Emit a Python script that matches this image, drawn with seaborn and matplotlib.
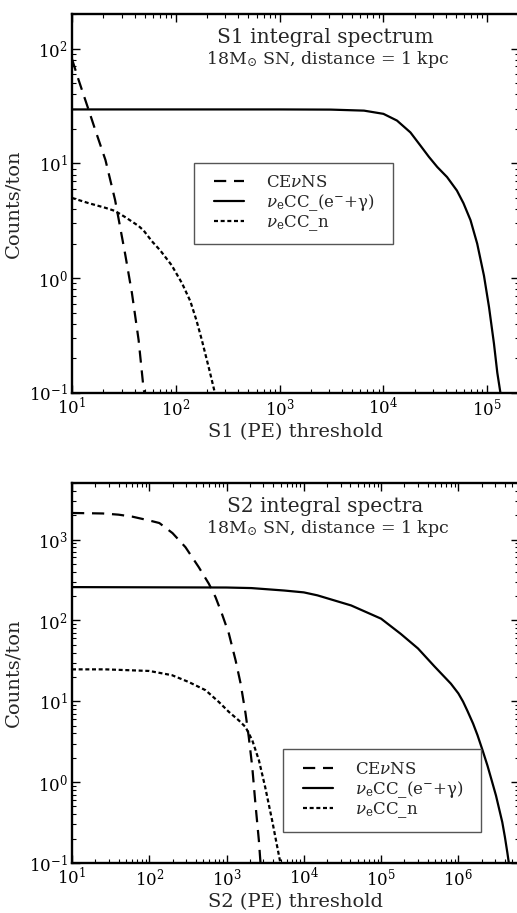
import numpy as np
import pandas as pd
import matplotlib
matplotlib.use("Agg")
import matplotlib.pyplot as plt
from matplotlib.patches import Rectangle
import seaborn as sns

# ---------------- data ----------------
# Top panel: S1 integral spectrum
s1_cevns_x = [10, 11.6, 14.5, 16.8, 21, 26, 32.6, 37.8, 43.8, 49, 50]
s1_cevns_y = [81, 53, 29, 19.4, 10.7, 4.8, 1.6, 0.74, 0.29, 0.107, 0.1]

s1_ccg_x = [10, 1000, 3100, 6500, 1e4, 1.35e4, 1.82e4, 2.27e4, 2.74e4, 3.3e4,
            4.1e4, 5.1e4, 5.9e4, 6.9e4, 8e4, 9.3e4, 1.04e5, 1.16e5, 1.25e5, 1.34e5]
s1_ccg_y = [29.5, 29.5, 29.4, 28.8, 27, 23.6, 18.6, 14.3, 11.4, 9.3,
            7.6, 5.8, 4.5, 3.2, 2.0, 1.05, 0.56, 0.27, 0.15, 0.1]

s1_ccn_x = [10, 14.5, 21, 26, 32.6, 43.8, 49, 58.8, 71, 91, 115, 138, 158, 178, 210, 238]
s1_ccn_y = [5.0, 4.5, 4.1, 3.85, 3.4, 2.85, 2.6, 2.1, 1.74, 1.3, 0.9, 0.63, 0.43, 0.29, 0.16, 0.1]

# Bottom panel: S2 integral spectra
s2_cevns_x = [10, 25, 40, 60, 100, 135, 200, 294, 437, 590, 720, 870, 1070,
              1310, 1520, 1760, 1940, 2150, 2360, 2620, 2750]
s2_cevns_y = [2130, 2100, 2030, 1920, 1720, 1600, 1200, 804, 455, 284, 194, 121, 69,
              32, 16.6, 7.1, 3.6, 1.55, 0.55, 0.19, 0.1]

s2_ccg_x = [10, 1000, 2090, 5600, 1e4, 1.5e4, 4.1e4, 1e5, 1.8e5, 3e5, 4.9e5, 8e5, 1e6,
            1.15e6, 1.31e6, 1.55e6, 1.77e6, 2.05e6, 2.38e6, 2.7e6, 3.07e6, 3.4e6,
            3.7e6, 4.0e6, 4.3e6, 4.5e6]
s2_ccg_y = [258, 255, 251, 234, 222, 204, 153, 105, 68, 45, 27, 16.5, 12.5,
            9.9, 7.6, 5.3, 3.8, 2.5, 1.6, 1.05, 0.68, 0.45,
            0.32, 0.21, 0.135, 0.1]

s2_ccn_x = [10, 27, 100, 197, 324, 535, 795, 1070, 1440, 1760, 2150, 2620,
            3160, 3880, 4520, 4980]
s2_ccn_y = [24.8, 24.8, 23.7, 21, 17.3, 13.7, 9.8, 7.4, 5.8, 4.8, 3.3, 1.87,
            0.87, 0.34, 0.16, 0.1]

labels = [r'CE$\nu$NS', r'$\nu_{\rm e}$CC_(e$^{-}$+γ)', r'$\nu_{\rm e}$CC_n']

# ---------------- style ----------------
sns.set_style("ticks")
plt.rcParams['font.family'] = ['DejaVu Serif', 'DejaVu Sans']
plt.rcParams['mathtext.fontset'] = 'dejavuserif'
plt.rcParams.update({
    'xtick.direction': 'in', 'ytick.direction': 'in',
    'xtick.top': True, 'ytick.right': True,
    'xtick.major.size': 6, 'ytick.major.size': 6,
    'xtick.minor.size': 3, 'ytick.minor.size': 3,
    'xtick.major.width': 1.0, 'ytick.major.width': 1.0,
    'xtick.minor.width': 0.8, 'ytick.minor.width': 0.8,
    'xtick.color': 'black', 'ytick.color': 'black',
    'axes.edgecolor': 'black', 'axes.linewidth': 1.7,
    'xtick.labelsize': 12, 'ytick.labelsize': 12,
    'axes.labelsize': 14,
})

W, H = 517, 913
fig = plt.figure(figsize=(W / 100, H / 100), dpi=100)

def make_ax(top_px, bot_px):
    left = 72 / W
    width = (518.5 - 72) / W
    bottom = 1 - bot_px / H
    height = (bot_px - top_px) / H
    return fig.add_axes([left, bottom, width, height])

ax1 = make_ax(14, 393)
ax2 = make_ax(483, 863)

styles = [(0, (5.5, 3.5)), '-', (0, (1.8, 1.2))]

def draw(ax, top_px, bot_px, series, xlim, ylim, xlabel, title, sub, box_px):
    for (x, y), ls, lab in zip(series, styles, labels):
        df = pd.DataFrame({'x': x, 'y': y})
        sns.lineplot(data=df, x='x', y='y', ax=ax, color='black',
                     linestyle=ls, linewidth=1.6, label=lab, sort=True,
                     estimator=None)
    ax.set_xscale('log')
    ax.set_yscale('log')
    ax.set_xlim(*xlim)
    ax.set_ylim(*ylim)
    ax.xaxis.set_major_locator(matplotlib.ticker.LogLocator(base=10, numticks=20))
    ax.xaxis.set_minor_locator(matplotlib.ticker.LogLocator(base=10, subs=np.arange(2, 10), numticks=100))
    ax.yaxis.set_major_locator(matplotlib.ticker.LogLocator(base=10, numticks=20))
    ax.yaxis.set_minor_locator(matplotlib.ticker.LogLocator(base=10, subs=np.arange(2, 10), numticks=100))
    ax.tick_params(which='both', direction='in', top=True, right=True)
    ax.tick_params(axis='x', which='major', pad=3)
    ax.tick_params(axis='y', which='major', pad=3)
    ax.set_xlabel(xlabel, fontsize=14, labelpad=3)
    ax.set_ylabel('Counts/ton', fontsize=14, labelpad=5)
    ax.text(0.567, 0.938, title, transform=ax.transAxes, ha='center', va='center', fontsize=14.5)
    ax.text(0.572, 0.88, sub, transform=ax.transAxes, ha='center', va='center', fontsize=12.5)

    # legend frame box (pixel box of the reference legend)
    bx0, by0, bx1, by1 = box_px
    ax_w = 518.5 - 72
    ax_h = bot_px - top_px
    fx = lambda px: (px - 72) / ax_w
    fy = lambda py: 1 - (py - top_px) / ax_h
    rect = Rectangle((fx(bx0), fy(by1)), fx(bx1) - fx(bx0), fy(by0) - fy(by1),
                     transform=ax.transAxes, fill=True, facecolor='white',
                     edgecolor='#555555', linewidth=1.0, zorder=4)
    ax.add_patch(rect)
    mid_y = (by0 + by1) / 2
    leg = ax.legend(loc='center left', bbox_to_anchor=(fx(bx0 + 20), fy(mid_y)),
                    frameon=False, fontsize=12, handlelength=1.8,
                    handletextpad=1.3, borderpad=0, labelspacing=0.05,
                    borderaxespad=0)
    leg.set_zorder(5)

draw(ax1, 14, 393,
     [(s1_cevns_x, s1_cevns_y), (s1_ccg_x, s1_ccg_y), (s1_ccn_x, s1_ccn_y)],
     (10, 2e5), (0.1, 200), 'S1 (PE) threshold', 'S1 integral spectrum',
     r'18M$_{\odot}$ SN, distance = 1 kpc', (194, 163, 393, 244))
draw(ax2, 483, 863,
     [(s2_cevns_x, s2_cevns_y), (s2_ccg_x, s2_ccg_y), (s2_ccn_x, s2_ccn_y)],
     (10, 6e6), (0.1, 5000), 'S2 (PE) threshold', 'S2 integral spectra',
     r'18M$_{\odot}$ SN, distance = 1 kpc', (283, 749, 481, 832))

fig.savefig('out.png', dpi=100)
